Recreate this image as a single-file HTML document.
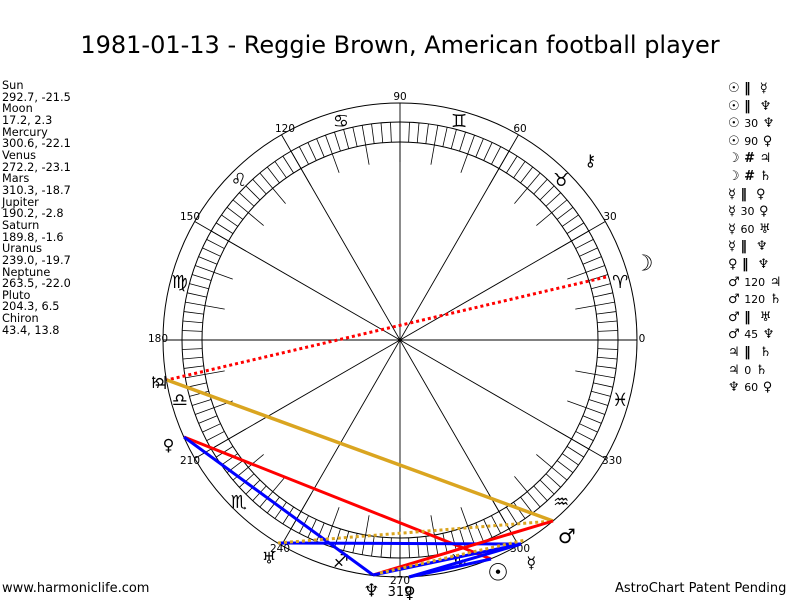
<!DOCTYPE html>
<html><head><meta charset="utf-8"><style>
body{margin:0;background:#fff;width:800px;height:600px;overflow:hidden;font-family:"DejaVu Sans","Liberation Sans",sans-serif}
.t{position:absolute;left:0;width:800px;top:31px;text-align:center;font-size:24px;color:#000}
.l{position:absolute;left:2px;top:80px;font-size:11.3px;line-height:11.65px;color:#000}
.r{position:absolute;left:728px;top:80px;font-family:"DejaVu Sans",sans-serif;font-size:13px;line-height:17.6px;font-weight:bold;white-space:pre}
.r small{font-size:11px;font-weight:normal}
.f{position:absolute;top:581px;font-size:13px}
</style></head><body>
<div class="t">1981-01-13 - Reggie Brown, American football player</div>
<div class="l">Sun<br>292.7, -21.5<br>Moon<br>17.2, 2.3<br>Mercury<br>300.6, -22.1<br>Venus<br>272.2, -23.1<br>Mars<br>310.3, -18.7<br>Jupiter<br>190.2, -2.8<br>Saturn<br>189.8, -1.6<br>Uranus<br>239.0, -19.7<br>Neptune<br>263.5, -22.0<br>Pluto<br>204.3, 6.5<br>Chiron<br>43.4, 13.8</div>
<div class="r">☉ ‖  ☿
☉ ‖  ♆
☉ <small>30</small> ♆
☉ <small>90</small> ♀
☽ # ♃
☽ # ♄
☿ ‖  ♀
☿ <small>30</small> ♀
☿ <small>60</small> ♅
☿ ‖  ♆
♀ ‖  ♆
♂ <small>120</small> ♃
♂ <small>120</small> ♄
♂ ‖  ♅
♂ <small>45</small> ♆
♃ ‖  ♄
♃ <small>0</small> ♄
♆ <small>60</small> ♀</div>
<div class="f" style="left:2px">www.harmoniclife.com</div>
<div class="f" style="left:615px">AstroChart Patent Pending</div>
<svg id="s" width="800" height="600" style="position:absolute;left:0;top:0" font-family="DejaVu Sans,sans-serif"></svg>
<script>
var s=document.getElementById('s'),cx=400,cy=340,h='';
function P(a,r){a=a*Math.PI/180;return [cx+r*Math.cos(a),cy-r*Math.sin(a)];}
h+='<circle cx="400" cy="340" r="237" fill="none" stroke="#000"/>';
h+='<circle cx="400" cy="340" r="218" fill="none" stroke="#000"/>';
h+='<circle cx="400" cy="340" r="198" fill="none" stroke="#000"/>';
for(var a=0;a<360;a+=2.5){var r2=(a%10==0)?178:198;var p=P(a,218),q=P(a,r2);h+='<line x1="'+p[0]+'" y1="'+p[1]+'" x2="'+q[0]+'" y2="'+q[1]+'" stroke="#000" stroke-width="0.8"/>';}
for(var a=0;a<180;a+=30){var p=P(a,237),q=P(a+180,237);h+='<line x1="'+p[0]+'" y1="'+p[1]+'" x2="'+q[0]+'" y2="'+q[1]+'" stroke="#000" stroke-width="0.9"/>';}
var lab=[[90,400,100],[120,285,132],[60,520,132],[30,610,220],[0,642,342],[330,612,464],[300,520,552],[270,400,584],[240,280,552],[210,190,464],[180,158,342],[150,190,220]];
lab.forEach(function(l){h+='<text x="'+l[1]+'" y="'+l[2]+'" font-size="10.5" text-anchor="middle">'+l[0]+'</text>';});
h+='<text x="400" y="596" font-size="13" text-anchor="middle">319</text>';
var z=['♈','♉','♊','♋','♌','♍','♎','♏','♐','♑','♒','♓'];
for(var i=0;i<12;i++){var p=P(15+30*i,228);h+='<text x="'+p[0]+'" y="'+(p[1]+7)+'" font-size="18" text-anchor="middle">'+z[i]+'</text>';}
function L(x1,y1,x2,y2,c,d,w){h+='<line x1="'+x1+'" y1="'+y1+'" x2="'+x2+'" y2="'+y2+'" stroke="'+c+'" stroke-width="'+(w||3)+'"'+(d?' stroke-dasharray="3,3"':'')+'/>';}
var G='#daa520';
L(606,277,167,380,'red',1);
L(167,380,553,521,G,0,3.5);
L(184,437,491,559,'red');
L(184,437,373,575,'blue');
L(278,543,521,544,'blue');
L(278,543,553,521,G,1);
L(373,575,553,521,'red');
L(373,575,521,544,'blue');
L(409,577,521,544,'blue');
L(409,577,491,559,'blue');
L(380,573,525,540,G,1);
var pl=[['☉',292.7,254,24],['☽',17.2,255,22],['☿',300.6,258,16],['♀',272.2,252,16],['♂',310.3,258,20],['♃',190.2,243,18],['♄',189.8,248,16],['♅',239.0,254,16],['♆',263.5,252,18],['♀',204.3,254,16],['⚷',43.4,262,16]];
pl.forEach(function(g){var p=P(g[1],g[2]);h+='<text x="'+p[0]+'" y="'+(p[1]+6)+'" font-size="'+g[3]+'" text-anchor="middle" font-weight="bold">'+g[0]+'</text>';});
s.innerHTML=h;
</script>
</body></html>
